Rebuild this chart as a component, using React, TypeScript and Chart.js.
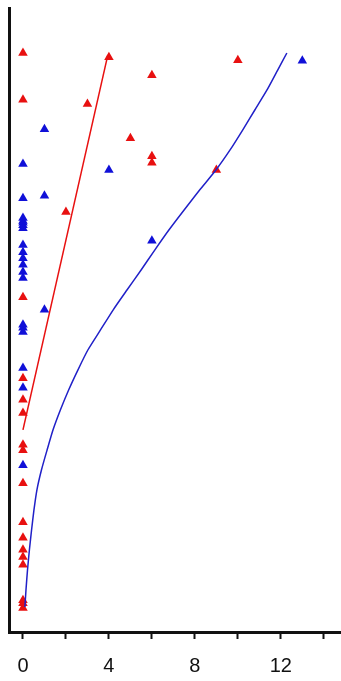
import React, { useEffect, useRef } from "react";
import { Chart, registerables } from "chart.js";

Chart.register(...registerables);

// Red series (x, y)
const redX = [0, 0, 0, 0, 0, 0, 0, 0, 0, 0, 0, 0, 0, 0, 0, 0, 0, 4, 6, 10, 3, 5, 6, 6, 9, 2];
const redY = [96.5, 88.7, 55.8, 42.3, 38.7, 36.5, 31.2, 30.3, 24.8, 18.3, 15.7, 13.7, 12.5, 11.2, 5.3, 4.0, 4.8, 95.8, 92.8, 95.3, 88, 82.3, 79.3, 78.2, 77, 70];

// Blue series (x, y)
const blueX = [0, 0, 0, 0, 0, 0, 0, 0, 0, 0, 0, 0, 0, 0, 0, 0, 0, 0, 0, 1, 1, 1, 4, 6, 13];
const blueY = [78, 72.3, 69, 68.5, 68.2, 67.8, 67.3, 64.5, 63.3, 62.3, 61.2, 60, 59, 51.2, 50.7, 50, 44, 40.7, 27.8, 83.8, 72.7, 53.7, 77, 65.2, 95.2];

// Red fitted line
const redLineX = [0, 3.95];
const redLineY = [33.7, 96.2];

// Blue fitted curve
const blueCurveX = [0.09, 0.14, 0.21, 0.30, 0.40, 0.51, 0.65, 0.86, 1.12, 1.40, 1.74, 2.12, 2.56, 3.02, 3.60, 4.20, 4.84, 5.49, 6.14, 6.79, 7.49, 8.23, 8.98, 9.63, 10.23, 10.79, 11.35, 11.86, 12.28];
const blueCurveY = [4.17, 7.0, 10.3, 13.7, 17.0, 20.3, 23.7, 27.0, 30.3, 33.7, 37.0, 40.3, 43.7, 47.0, 50.3, 53.7, 57.0, 60.3, 63.7, 67.0, 70.3, 73.7, 77.0, 80.3, 83.7, 87.0, 90.3, 93.7, 96.5];

// X ticks
const xTickValues = [0, 2, 4, 6, 8, 10, 12, 14];
const xTickLabels = ["0", "", "4", "", "8", "", "12", ""];

const RED = "#e81010";
const BLUE = "#1010d8";

const zip = (xs: number[], ys: number[]) => xs.map((x, i) => ({ x, y: ys[i] }));

export default function App() {
  const ref = useRef<HTMLCanvasElement | null>(null);
  useEffect(() => {
    if (!ref.current) return;
    const chart = new Chart(ref.current, {
      type: "scatter",
      data: {
        datasets: [
          {
            data: zip(redLineX, redLineY),
            showLine: true,
            borderColor: RED,
            borderWidth: 1.5,
            pointRadius: 0,
          },
          {
            data: zip(blueCurveX, blueCurveY),
            showLine: true,
            borderColor: "#2020c8",
            borderWidth: 1.5,
            pointRadius: 0,
            tension: 0.2,
          },
          {
            data: zip(redX, redY),
            pointStyle: "triangle",
            pointRadius: 5.5,
            backgroundColor: RED,
            borderColor: RED,
            borderWidth: 0,
          },
          {
            data: zip(blueX, blueY),
            pointStyle: "triangle",
            pointRadius: 5.5,
            backgroundColor: BLUE,
            borderColor: BLUE,
            borderWidth: 0,
          },
        ],
      } as any,
      options: {
        animation: false,
        responsive: false,
        events: [],
        layout: { autoPadding: false, padding: { left: 9, top: 8, right: 0, bottom: 0 } },
        plugins: { legend: { display: false }, tooltip: { enabled: false } },
        scales: {
          x: {
            type: "linear",
            min: -0.65,
            max: 14.8,
            afterBuildTicks: (scale: any) => {
              scale.ticks = xTickValues.map((v) => ({ value: v }));
            },
            afterFit: (scale: any) => {
              scale.height = 49;
              scale.paddingLeft = 0;
              scale.paddingRight = 0;
            },
            grid: {
              display: true,
              drawOnChartArea: false,
              drawTicks: true,
              tickLength: 7,
              tickColor: "#111",
              tickWidth: 2,
            },
            border: { display: true, color: "#111", width: 3 },
            ticks: {
              autoSkip: false,
              maxRotation: 0,
              padding: 15,
              color: "#111",
              font: { family: "'Liberation Sans', Arial, sans-serif", size: 20 },
              callback: (v: any) => {
                const i = xTickValues.indexOf(Number(v));
                return i >= 0 ? xTickLabels[i] : "";
              },
            },
          },
          y: {
            type: "linear",
            min: 0,
            max: 104,
            afterFit: (scale: any) => {
              scale.width = 0;
              scale.paddingTop = 0;
              scale.paddingBottom = 0;
            },
            grid: { display: false },
            border: { display: true, color: "#111", width: 3 },
            ticks: { display: false },
          },
        },
      } as any,
    });
    return () => chart.destroy();
  }, []);
  return (
    <div style={{ position: "fixed", left: 0, top: 0, width: 341, height: 681, background: "#fff" }}>
      <canvas ref={ref} width={341} height={681} />
    </div>
  );
}
